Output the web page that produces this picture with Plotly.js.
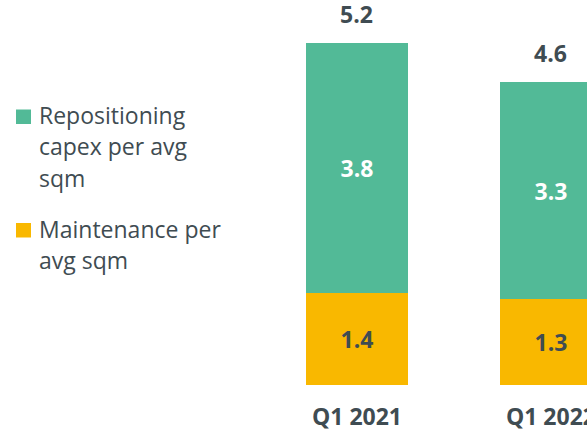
<!DOCTYPE html>
<html><head><meta charset="utf-8">
<script src="https://cdn.plot.ly/plotly-3.0.1.min.js"></script>
<style>html,body{margin:0;padding:0;background:#fff}#chart{width:587px;height:432px}</style>
</head><body><div id="chart"></div>
<script>
const categories = ["Q1 2021", "Q1 2022"];
const maintenance = [1.4, 1.3];
const repositioning = [3.8, 3.3];
const totals = [5.2, 4.6];
const legendLabels = [
  ["Repositioning", "capex per avg", "sqm"],
  ["Maintenance per", "avg sqm"]
];
const seriesColors = ["#52BA97", "#F9B800"];

const txtColor = "#3f4c52";
const fontFam = "'Open Sans', sans-serif";

// plot-area geometry (pixels) for placing the hand-made legend
const W = 587, H = 432, L = 250, B = 47, T = 0;
const plotW = W - L, plotH = H - B - T;
const px = v => (v - L) / plotW;
const py = v => (H - B - v) / plotH;

const traces = [
  {type: "bar", x: categories, y: maintenance, name: legendLabels[1].join(" "),
   marker: {color: seriesColors[1]}, text: maintenance.map(v => v.toFixed(1)),
   textposition: "inside", insidetextanchor: "middle", textangle: 0,
   textfont: {family: fontFam, size: 23, color: txtColor, weight: "bold"},
   width: 0.526, hoverinfo: "skip"},
  {type: "bar", x: categories, y: repositioning, name: legendLabels[0].join(" "),
   marker: {color: seriesColors[0]}, text: repositioning.map(v => v.toFixed(1)),
   textposition: "inside", insidetextanchor: "middle", textangle: 0,
   textfont: {family: fontFam, size: 23, color: "#ffffff", weight: "bold"},
   width: 0.526, hoverinfo: "skip"}
];

const annotations = categories.map((c, i) => ({
  x: c, y: totals[i], xref: "x", yref: "y", text: totals[i].toFixed(1),
  showarrow: false, yanchor: "bottom", yshift: 11,
  font: {family: fontFam, size: 23, color: txtColor, weight: "bold"}
}));

// legend: squares + per-line text
const legendTop = [109.5, 223];       // square top (px)
const lineGap = 31.2;
const shapes = [];
legendLabels.forEach((lines, k) => {
  shapes.push({type: "rect", xref: "paper", yref: "paper",
    x0: px(16), x1: px(31), y0: py(legendTop[k]), y1: py(legendTop[k] + 14.5),
    fillcolor: seriesColors[k], line: {width: 0}});
  lines.forEach((t, j) => {
    const baseline = legendTop[k] + 14.8 + j * lineGap;
    annotations.push({xref: "paper", yref: "paper", x: px(37), y: py(baseline - 9),
      xanchor: "left", yanchor: "middle", showarrow: false, text: t,
      font: {family: fontFam, size: 23, color: txtColor}});
  });
});

const layout = {
  width: W, height: H,
  margin: {l: L, r: 0, t: T, b: B},
  barmode: "stack",
  paper_bgcolor: "#fff", plot_bgcolor: "#fff",
  font: {family: fontFam, color: txtColor},
  xaxis: {type: "category", range: [-0.5515, 1.186], showgrid: false, zeroline: false,
          showline: false, ticks: "", ticklabelstandoff: 16,
          tickfont: {family: fontFam, size: 23, color: txtColor, weight: "bold"}},
  yaxis: {range: [0, 5.85], visible: false, showgrid: false, zeroline: false},
  showlegend: false,
  shapes: shapes,
  annotations: annotations
};

Plotly.newPlot("chart", traces, layout, {displayModeBar: false, staticPlot: true});
</script></body></html>
